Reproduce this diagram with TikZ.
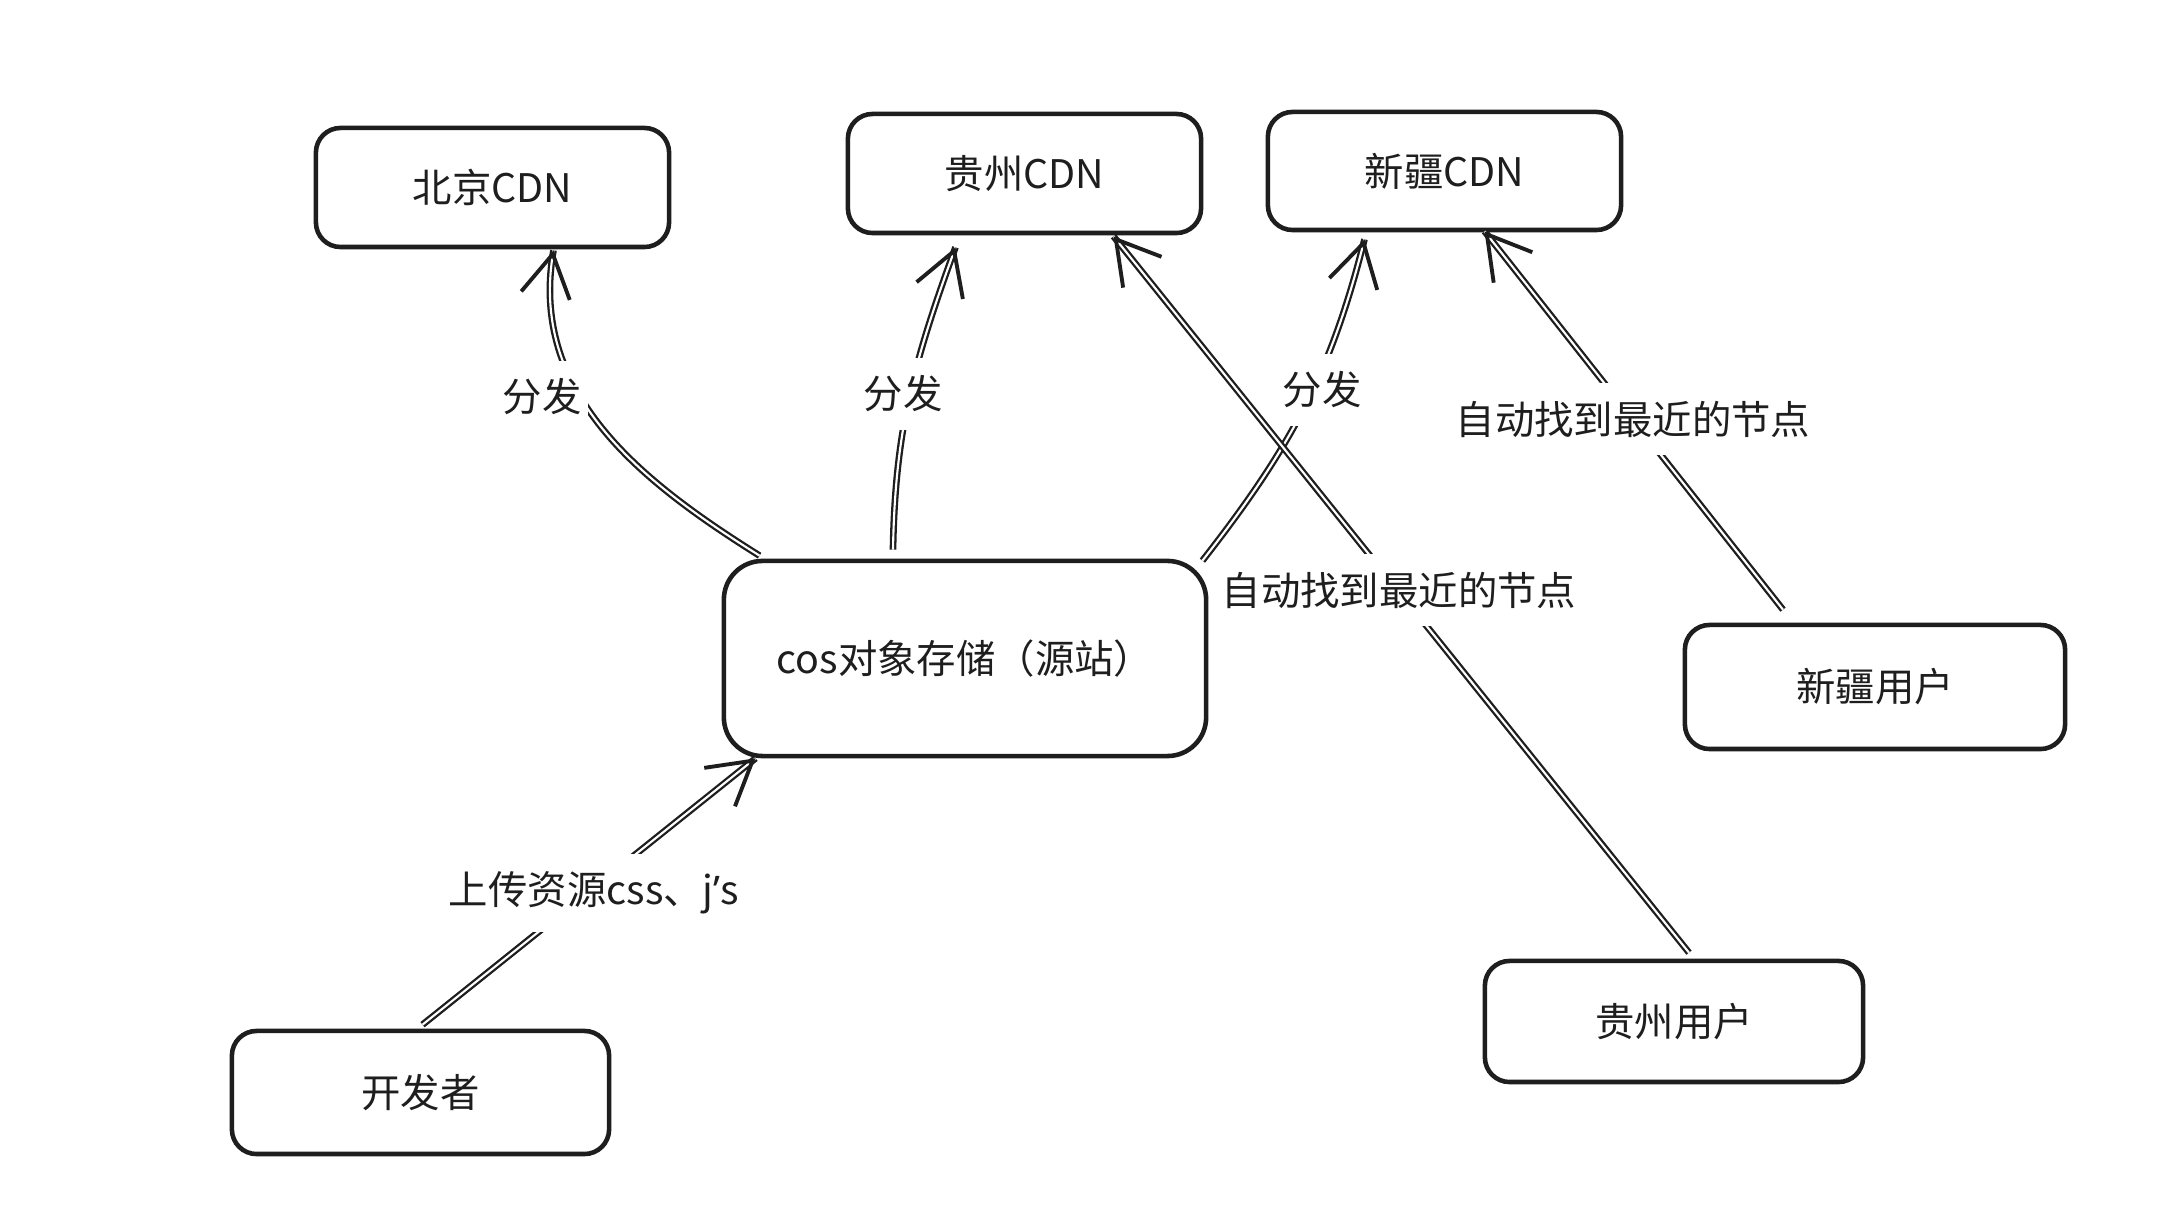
\documentclass[tikz,border=0pt]{standalone}
\usepackage{fontspec}
\setmainfont{Noto Sans CJK SC}
\newfontfamily\latinfont{Noto Sans}
\usetikzlibrary{arrows.meta,calc}
\definecolor{ink}{HTML}{1E1E1E}
\begin{document}
\begin{tikzpicture}[x=0.01cm,y=0.01cm,
  box/.style={draw=ink, line width=1.3pt, rounded corners=7pt, fill=white, inner sep=0pt, font=\fontsize{11.2}{13}\selectfont, text=ink},
  conn/.style={draw=ink, line width=0.65pt, double=white, double distance=0.6pt},
  tip/.style={draw=ink, line width=1pt, dash pattern=on 0pt off 3000pt, -{Straight Barb[length=12pt,width=14pt,line width=1.1pt]}},
  lbl/.style={fill=white, inner xsep=2pt, inner ysep=5pt, font=\fontsize{11.2}{13}\selectfont, text=ink}]
\useasboundingbox[fill=white] (0,0) rectangle (2162,-1228);

% boxes
\node[box, minimum width=3.53cm, minimum height=1.19cm] (bj) at (492.5,-187.5) {北京CDN};
\node[box, minimum width=3.53cm, minimum height=1.19cm] (gzcdn) at (1024.5,-173.5) {贵州CDN};
\node[box, minimum width=3.53cm, minimum height=1.18cm] (xjcdn) at (1444.5,-171) {新疆CDN};
\node[box, rounded corners=11pt, minimum width=4.82cm, minimum height=1.95cm] (cos) at (965,-658.5) {cos对象存储（源站）};
\node[box, minimum width=3.80cm, minimum height=1.24cm] (xjuser) at (1875,-687) {新疆用户};
\node[box, minimum width=3.78cm, minimum height=1.21cm] (gzuser) at (1674,-1021.5) {贵州用户};
\node[box, minimum width=3.77cm, minimum height=1.23cm] (dev) at (420.5,-1092.5) {开发者};

% connector end points
\coordinate (c1s) at ($(cos.north west)+(38,3)$);
\coordinate (c1e) at ($(bj.south)+(61,-1)$);
\coordinate (c2s) at ($(cos.north)+(-72,9)$);
\coordinate (c2e) at ($(gzcdn.south)+(-69,-12)$);
\coordinate (c3s) at ($(cos.north east)+(-6,-2)$);
\coordinate (c3e) at ($(xjcdn.south)+(-80,-7)$);
\coordinate (c4s) at ($(gzuser.north)+(15,6)$);
\coordinate (c4e) at ($(gzcdn.south)+(89,-1)$);
\coordinate (c5s) at ($(xjuser.north)+(-92,13)$);
\coordinate (c5e) at ($(xjcdn.south)+(40,1)$);
\coordinate (c6s) at ($(dev.north)+(2,4)$);
\coordinate (c6e) at ($(cos.south west)+(34,0)$);

% connectors
\draw[conn] (c1s) to[out=148,in=-100] (c1e);
\draw[tip] (c1s) to[out=148,in=-100] (c1e);
\draw[conn] (c2s) to[out=89,in=-110] (c2e);
\draw[tip] (c2s) to[out=89,in=-110] (c2e);
\draw[conn] (c3s) to[out=52,in=-104] (c3e);
\draw[tip] (c3s) to[out=52,in=-104] (c3e);
\draw[conn] (c4s) -- (c4e);
\draw[tip] (c4s) -- (c4e);
\draw[conn] (c5s) -- (c5e);
\draw[tip] (c5s) -- (c5e);
\draw[conn] (c6s) -- (c6e);
\draw[tip] (c6s) -- (c6e);

% labels
\node[lbl] (l1) at (542,-397) {分发};
\node[lbl] (l2) at (903,-394) {分发};
\node[lbl] (l3) at (1322,-390) {分发};
\node[lbl] (l4) at (1399,-590) {自动找到最近的节点};
\node[lbl] (l5) at (1633,-419) {自动找到最近的节点};
\node[lbl] (l6) at (594,-893) {上传资源css、j{\latinfont ’}s};
\end{tikzpicture}
\end{document}
